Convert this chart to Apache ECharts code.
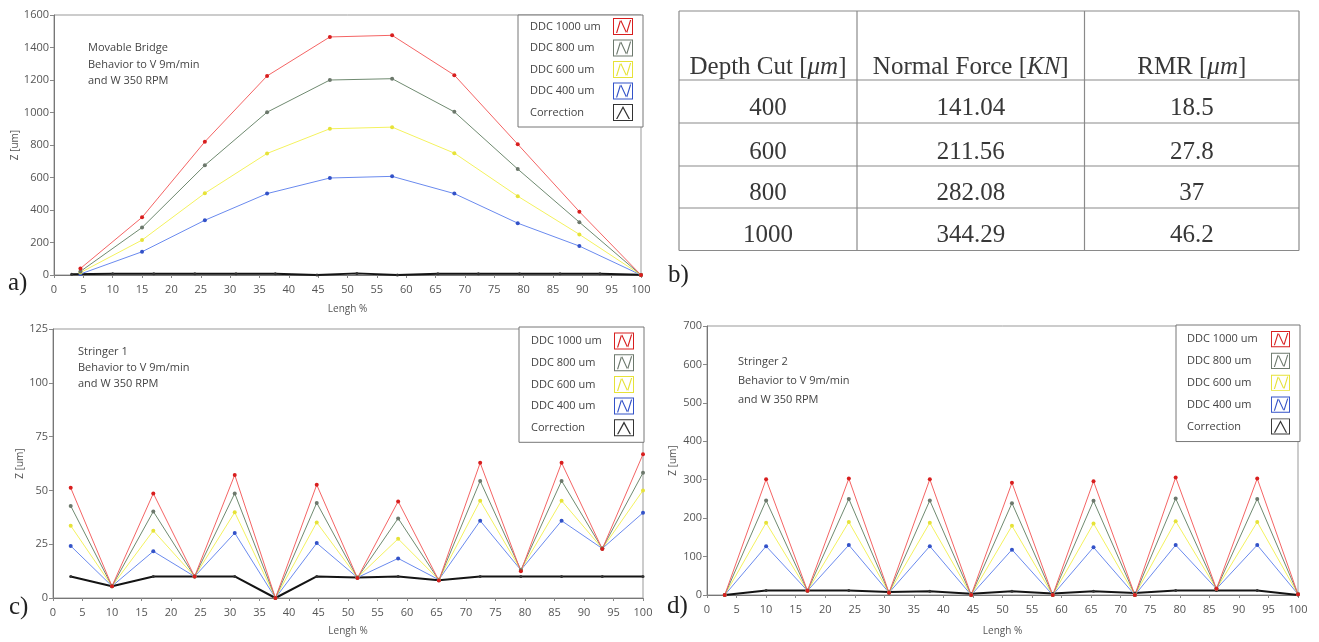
<!DOCTYPE html>
<html><head><meta charset="utf-8">
<script src="https://cdn.jsdelivr.net/npm/echarts@6/dist/echarts.min.js"></script>
<style>html,body{margin:0;padding:0;background:#fff}#chart{width:1319px;height:642px}</style>
</head><body><div id="chart"></div>
<script>
// ---------- DATA ----------
const seriesNames = ['DDC 1000 um', 'DDC 800 um', 'DDC 600 um', 'DDC 400 um', 'Correction'];
const xTicks = { min: 0, max: 100, step: 5 };

// a) Movable Bridge
const aTitle = 'Movable Bridge\nBehavior to V 9m/min\nand W 350 RPM';
const aX = [4.5, 15, 25.7, 36.3, 47, 57.6, 68.2, 79, 89.5, 100];
const aDDC1000 = [40, 355, 820, 1225, 1465, 1475, 1230, 805, 390, 0];
const aDDC800 = [22, 292, 675, 1002, 1200, 1208, 1004, 652, 325, 0];
const aDDC600 = [15, 215, 503, 748, 900, 910, 750, 485, 250, 0];
const aDDC400 = [6, 143, 337, 501, 597, 607, 501, 319, 178, 0];
const aCorrX = [3, 10, 17, 24, 31, 37.7, 44.8, 51.6, 58.5, 65.4, 72.3, 79.3, 86.2, 93, 100];
const aCorr = [5, 8, 8, 8, 8, 8, 0, 10, 0, 8, 8, 8, 8, 8, 2];
const aYAxis = { min: 0, max: 1600, step: 200 };

// c) Stringer 1
const cTitle = 'Stringer 1\nBehavior to V 9m/min\nand W 350 RPM';
const cX = [3, 10, 17, 24, 30.8, 37.7, 44.7, 51.6, 58.5, 65.4, 72.4, 79.3, 86.2, 93.1, 100];
const cDDC1000 = [51.2, 5.5, 48.6, 10, 57.2, 0, 52.6, 9.3, 44.9, 8.1, 62.8, 12.4, 62.8, 22.8, 66.8];
const cDDC800 = [42.8, 5.5, 40.2, 10, 48.6, 0, 44.2, 9.4, 37, 8.3, 54.4, 13, 54.4, 23, 58.2];
const cDDC600 = [33.6, 5.5, 31.3, 10, 39.8, 0, 35.1, 9.5, 27.5, 8.5, 45.2, 13, 45.2, 23, 50];
const cDDC400 = [24.2, 5.5, 21.7, 10, 30.2, 0, 25.5, 9.5, 18.4, 8.5, 35.9, 13, 35.9, 23, 39.6];
const cCorr = [10, 5.5, 10, 10, 10, 0, 10, 9.5, 10, 8.3, 10, 10, 10, 10, 10];
const cYAxis = { min: 0, max: 125, step: 25 };

// d) Stringer 2
const dTitle = 'Stringer 2\nBehavior to V 9m/min\nand W 350 RPM';
const dX = [3, 10, 17, 24, 30.8, 37.7, 44.7, 51.6, 58.5, 65.4, 72.4, 79.3, 86.2, 93.1, 100];
const dDDC1000 = [0, 301, 11, 303, 6, 301, 0, 292, 0, 296, 0, 306, 16, 303, 2];
const dDDC800 = [0, 246, 11, 250, 6, 246, 0, 239, 0, 245, 0, 251, 16, 250, 2];
const dDDC600 = [0, 188, 11, 190, 6, 188, 0, 180, 0, 186, 0, 192, 16, 190, 2];
const dDDC400 = [0, 127, 11, 130, 6, 127, 0, 118, 0, 124, 0, 130, 16, 130, 2];
const dCorr = [0, 12, 12, 12, 8, 10, 3, 10, 4, 10, 5, 12, 12, 12, 0];
const dYAxis = { min: 0, max: 700, step: 100 };

// b) table
const tableHeaders = ['{n|Depth Cut [}{i|μm}{n|]}', '{n|Normal Force [}{i|KN}{n|]}', '{n|RMR [}{i|μm}{n|]}'];
const depthCut = ['400', '600', '800', '1000'];
const normalForce = ['141.04', '211.56', '282.08', '344.29'];
const rmr = ['18.5', '27.8', '37', '46.2'];

const panelLabels = ['a)', 'b)', 'c)', 'd)'];

// ---------- STYLE ----------
const SANS = 'Open Sans';
const SERIF = 'Liberation Serif';
const styles = {
  'DDC 1000 um': { line: '#f46464', mark: '#d81e1e', w: 1, s: 4 },
  'DDC 800 um': { line: '#6f8a70', mark: '#6c786c', w: 1, s: 4 },
  'DDC 600 um': { line: '#f4f25e', mark: '#e6e238', w: 1, s: 4 },
  'DDC 400 um': { line: '#6a8aee', mark: '#3352c8', w: 1, s: 4 },
  'Correction': { line: '#141414', mark: '#333333', w: 2, s: 3 }
};
const ICON_N = 'path://M0,0H20V17H0Z M1,1V16H19V1Z M3,15L7,2L13,15L17,2L18.2,2L14.2,15L8.2,2L4.2,15Z';
const ICON_L = 'path://M0,0H20V17H0Z M1,1V16H19V1Z M3,15L10,2L17,15L15.6,15L10,4.6L4.4,15Z';

function pairs(xs, ys) { return xs.map((x, i) => [x, ys[i]]); }

function makeSeries(gi, name, xs, ys) {
  const st = styles[name];
  return {
    name, type: 'line', xAxisIndex: gi, yAxisIndex: gi,
    data: pairs(xs, ys), symbol: 'circle', symbolSize: st.s, showSymbol: true,
    lineStyle: { color: st.line, width: st.w }, itemStyle: { color: st.mark },
    emphasis: { disabled: true }, animation: false
  };
}

function seriesFor(gi, xs, corrX, d1000, d800, d600, d400, corr) {
  return [
    makeSeries(gi, 'Correction', corrX, corr),
    makeSeries(gi, 'DDC 400 um', xs, d400),
    makeSeries(gi, 'DDC 600 um', xs, d600),
    makeSeries(gi, 'DDC 800 um', xs, d800),
    makeSeries(gi, 'DDC 1000 um', xs, d1000)
  ];
}

const grids = [
  { left: 54, top: 15, width: 587, height: 260 },
  { left: 53, top: 329, width: 590, height: 269 },
  { left: 707, top: 326, width: 591, height: 269 }
];

function xAxisFor(gi, nameGap) {
  return {
    type: 'value', gridIndex: gi, min: xTicks.min, max: xTicks.max, interval: xTicks.step,
    name: 'Lengh %', nameLocation: 'middle', nameGap,
    nameTextStyle: { fontFamily: SANS, fontSize: 10, color: '#555' },
    axisLine: { lineStyle: { color: '#777' } },
    axisTick: { length: 3, lineStyle: { color: '#888' } },
    axisLabel: { fontFamily: SANS, fontSize: 11, color: '#555', margin: 9, formatter: v => String(v) },
    splitLine: { show: false }
  };
}
function yAxisFor(gi, ax, nameGap) {
  return {
    type: 'value', gridIndex: gi, min: ax.min, max: ax.max, interval: ax.step,
    name: 'Z [um]', nameLocation: 'middle', nameGap, nameRotate: 90,
    nameTextStyle: { fontFamily: SANS, fontSize: 10, color: '#555' },
    axisLine: { show: true, lineStyle: { color: '#777' } },
    axisTick: { show: true, length: 4, lineStyle: { color: '#888' } },
    axisLabel: { fontFamily: SANS, fontSize: 11, color: '#555', margin: 5, formatter: v => String(v) },
    splitLine: { show: false }
  };
}

function legendFor(left, top, pad, gap, iw, ih, tw) {
  return {
    orient: 'vertical', left, top, padding: pad, itemGap: gap, itemWidth: iw, itemHeight: ih,
    align: 'right', selectedMode: false,
    backgroundColor: '#fff', borderColor: '#777', borderWidth: 1,
    itemStyle: { borderWidth: 0 },
    data: seriesNames.map(n => ({ name: n, icon: n === 'Correction' ? ICON_L : ICON_N })),
    formatter: '{t|{name}}',
    textStyle: { color: '#444', fontFamily: SANS, fontSize: 11,
      rich: { t: { width: tw, align: 'left', color: '#444', fontFamily: SANS, fontSize: 11 } } }
  };
}

function titleFor(text, left, top, lh) {
  return { text, left, top, padding: 0,
    textStyle: { fontFamily: SANS, fontSize: 11, fontWeight: 'normal', color: '#444', lineHeight: lh } };
}

// ---------- TABLE (graphic) ----------
const tableCols = [679, 857, 1084.5, 1299];
const tableRows = [11, 80, 123, 166, 208, 250.5];
const headerTextY = 67;
const rowTextY = [108, 152, 193, 235];
const tableGraphics = [];
tableRows.forEach(y => tableGraphics.push({ type: 'line', shape: { x1: tableCols[0], y1: y, x2: tableCols[3], y2: y },
  style: { stroke: '#8a8a8a', lineWidth: 1.2 }, silent: true }));
tableCols.forEach(x => tableGraphics.push({ type: 'line', shape: { x1: x, y1: tableRows[0], x2: x, y2: tableRows[5] },
  style: { stroke: '#8a8a8a', lineWidth: 1.2 }, silent: true }));
const colCenter = i => (tableCols[i] + tableCols[i + 1]) / 2;
const richSerif = { n: { fontFamily: SERIF, fontSize: 25, fill: '#383838' }, i: { fontFamily: SERIF, fontSize: 25, fontStyle: 'italic', fill: '#383838' } };
tableHeaders.forEach((h, i) => tableGraphics.push({ type: 'text', x: colCenter(i), y: headerTextY, silent: true,
  style: { text: h, rich: richSerif, align: 'center', verticalAlign: 'middle' } }));
[depthCut, normalForce, rmr].forEach((col, ci) => col.forEach((v, ri) => tableGraphics.push({
  type: 'text', x: colCenter(ci), y: rowTextY[ri], silent: true,
  style: { text: v, fontFamily: SERIF, fontSize: 25, fill: '#383838', align: 'center', verticalAlign: 'middle' } })));
const labelPos = [[8, 283], [668, 275], [9, 607], [667, 606]];
panelLabels.forEach((t, i) => tableGraphics.push({ type: 'text', x: labelPos[i][0], y: labelPos[i][1], silent: true,
  style: { text: t, fontFamily: SERIF, fontSize: 25, fill: '#222', verticalAlign: 'middle' } }));

const option = {
  animation: false,
  backgroundColor: '#fff',
  grid: grids.map(g => Object.assign({ show: true, borderColor: '#999', borderWidth: 1, backgroundColor: 'transparent' }, g)),
  xAxis: [xAxisFor(0, 29), xAxisFor(1, 28), xAxisFor(2, 31)],
  yAxis: [yAxisFor(0, aYAxis, 30), yAxisFor(1, cYAxis, 27), yAxisFor(2, dYAxis, 29)],
  title: [titleFor(aTitle, 88, 40, 16.5), titleFor(cTitle, 78, 344, 16), titleFor(dTitle, 738, 352, 19)],
  legend: [
    legendFor(518, 15, [3, 10, 6, 12], 4.5, 20, 17, 78),
    legendFor(519, 327, [5.5, 10, 6, 12], 4.7, 20, 17, 78),
    legendFor(1176, 325, [6, 10, 7, 11], 5.7, 19, 20, 79)
  ],
  series: [].concat(
    seriesFor(0, aX, aCorrX, aDDC1000, aDDC800, aDDC600, aDDC400, aCorr),
    seriesFor(1, cX, cX, cDDC1000, cDDC800, cDDC600, cDDC400, cCorr),
    seriesFor(2, dX, dX, dDDC1000, dDDC800, dDDC600, dDDC400, dCorr)
  ),
  graphic: tableGraphics
};
const chart = echarts.init(document.getElementById('chart'), null, { renderer: 'canvas' });
chart.setOption(option);
</script></body></html>
